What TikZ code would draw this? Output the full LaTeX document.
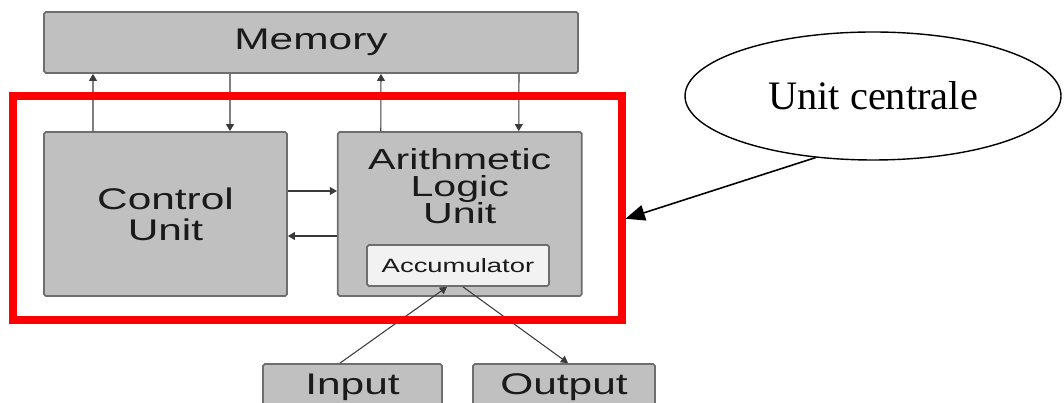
\documentclass[tikz,border=0pt]{standalone}
\usepackage{fontspec}
\newfontfamily\boxfont[FakeStretch=1.42]{Liberation Sans}
\newfontfamily\notefont{Liberation Serif}
\usetikzlibrary{arrows.meta, positioning, shapes.geometric}
\definecolor{boxgray}{HTML}{C0C0C0}
\definecolor{boxedge}{HTML}{6E6E6E}
\definecolor{accfill}{HTML}{F2F2F2}
\definecolor{linegray}{HTML}{3A3A3A}
\definecolor{textgray}{HTML}{1A1A1A}

\begin{document}
\begin{tikzpicture}[
  unit box/.style={draw=boxedge, line width=1pt, fill=boxgray, rounded corners=1pt, inner sep=0pt, text=textgray, font=\boxfont\fontsize{17}{17.5}\selectfont},
  acc box/.style={unit box, fill=accfill, font=\boxfont\fontsize{11}{12}\selectfont},
  cpu frame/.style={draw=red, line width=4pt, inner sep=0pt},
  remark/.style={draw, ellipse, line width=0.8pt, font=\notefont\fontsize{23}{25}\selectfont},
  bus/.style={draw=linegray, line width=0.6pt, -{Triangle[length=4pt, width=4.5pt]}},
  pointer/.style={draw=black, line width=0.9pt, -{Triangle[length=11pt, width=9pt]}}
]
  \useasboundingbox (0,0) rectangle (21.28,8.06);
  \clip (0,0) rectangle (21.28,8.06);

  % Memory
  \node[unit box, minimum width=10.68cm, minimum height=1.22cm] (memory) at (6.22,7.21) {Memory};

  % Control unit, ALU and accumulator
  \node[unit box, minimum width=4.86cm, minimum height=3.28cm, align=center] (control unit) at (3.31,3.78) {Control\\Unit};
  \node[unit box, minimum width=4.88cm, minimum height=3.28cm, right=0.98cm of control unit,
    label={[align=center, text=textgray, font=\boxfont\fontsize{16.5}{15.5}\selectfont, yshift=0.56cm]center:{Arithmetic\\Logic\\Unit}}] (alu) {};
  \node[acc box, minimum width=3.64cm, minimum height=0.82cm] (acc) at (9.16,2.75) {Accumulator};

  % Input / Output
  \node[unit box, minimum width=3.58cm, minimum height=0.92cm] (input) at (7.05,0.32) {Input};
  \node[unit box, minimum width=3.64cm, minimum height=0.92cm] (output) at (11.28,0.32) {Output};

  % buses
  \draw[bus] ([xshift=-1.45cm]control unit.north) -- ([xshift=-4.36cm]memory.south);
  \draw[bus] ([xshift=-1.62cm]memory.south) -- ([xshift=1.29cm]control unit.north);
  \draw[bus] ([xshift=-1.58cm]alu.north) -- ([xshift=1.40cm]memory.south);
  \draw[bus] ([xshift=4.16cm]memory.south) -- ([xshift=1.18cm]alu.north);
  \draw[bus] ([yshift=0.46cm]control unit.east) -- ([yshift=0.46cm]alu.west);
  \draw[bus] ([yshift=-0.44cm]alu.west) -- ([yshift=-0.44cm]control unit.east);
  \draw[bus] ([xshift=-0.25cm]input.north) -- ([xshift=-0.22cm]acc.south);
  \draw[bus] ([xshift=0.10cm]acc.south) -- ([xshift=0.08cm]output.north);

  % CPU frame and its note
  \node[cpu frame, minimum width=12.18cm, minimum height=4.48cm] (cpu) at (6.35,3.90) {};
  \node[remark, minimum width=7.52cm, minimum height=2.56cm] (central) at (17.46,6.14) {Unit centrale};
  \draw[pointer] (central.227) -- (cpu.-2.6);
\end{tikzpicture}
\end{document}
